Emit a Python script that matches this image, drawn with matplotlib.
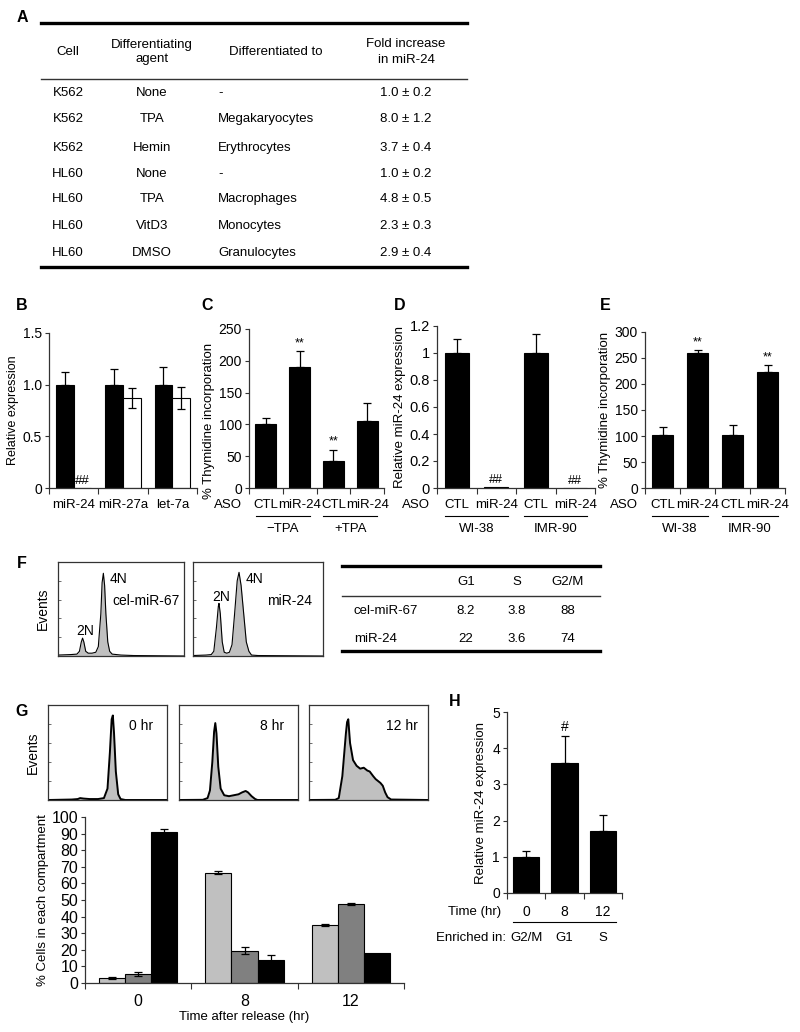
import numpy as np
import matplotlib
matplotlib.use("Agg")
import matplotlib.pyplot as plt
import matplotlib.transforms as mtransforms

plt.rcParams['font.family'] = ['Liberation Sans', 'DejaVu Sans']
plt.rcParams['font.size'] = 9.5

W, H = 800, 1032
NARROW = ['Liberation Sans Narrow', 'Liberation Sans', 'DejaVu Sans']

# ---------------- data ----------------
# A - differentiation table
tabA_cells = ['K562', 'K562', 'K562', 'HL60', 'HL60', 'HL60', 'HL60']
tabA_agents = ['None', 'TPA', 'Hemin', 'None', 'TPA', 'VitD3', 'DMSO']
tabA_to = ['-', 'Megakaryocytes', 'Erythrocytes', '-', 'Macrophages', 'Monocytes', 'Granulocytes']
tabA_fold = ['1.0 ± 0.2', '8.0 ± 1.2', '3.7 ± 0.4', '1.0 ± 0.2', '4.8 ± 0.5', '2.3 ± 0.3', '2.9 ± 0.4']

# B - relative expression
b_genes = ['miR-24', 'miR-27a', 'let-7a']
b_ctl = [1.0, 1.0, 1.0]
b_ctl_err = [0.12, 0.15, 0.17]
b_aso = [0.0, 0.87, 0.87]
b_aso_err = [0.0, 0.10, 0.11]

# C - thymidine, TPA
c_labels = ['CTL', 'miR-24', 'CTL', 'miR-24']
c_groups = ['\u2212TPA', '+TPA']
c_vals = [100, 191, 43, 105]
c_err = [10, 24, 17, 28]
c_marks = ['', '**', '**', '']

# D - miR-24 expression in fibroblasts
d_labels = ['CTL', 'miR-24', 'CTL', 'miR-24']
d_groups = ['WI-38', 'IMR-90']
d_vals = [1.0, 0.005, 1.0, 0.0]
d_err = [0.10, 0.0, 0.14, 0.0]
d_marks = ['', '##', '', '##']

# E - thymidine in fibroblasts
e_labels = ['CTL', 'miR-24', 'CTL', 'miR-24']
e_groups = ['WI-38', 'IMR-90']
e_vals = [101, 260, 101, 223]
e_err = [17, 5, 21, 14]
e_marks = ['', '**', '', '**']

# F - DNA content histograms (x, y as fraction of box)
f1_x = [0.0, 0.10, 0.15, 0.17, 0.185, 0.195, 0.205, 0.22, 0.24, 0.27, 0.30, 0.32, 0.34, 0.35, 0.36, 0.37, 0.38, 0.395, 0.41, 0.43, 0.50, 0.60, 1.0]
f1_y = [0.01, 0.015, 0.02, 0.05, 0.15, 0.19, 0.15, 0.05, 0.03, 0.03, 0.04, 0.10, 0.45, 0.78, 0.88, 0.75, 0.45, 0.15, 0.05, 0.02, 0.01, 0.005, 0.0]
f2_x = [0.0, 0.10, 0.14, 0.16, 0.18, 0.195, 0.20, 0.21, 0.225, 0.24, 0.26, 0.28, 0.30, 0.32, 0.34, 0.354, 0.37, 0.39, 0.41, 0.43, 0.45, 0.50, 1.0]
f2_y = [0.005, 0.01, 0.015, 0.05, 0.30, 0.53, 0.56, 0.45, 0.15, 0.04, 0.03, 0.04, 0.12, 0.45, 0.80, 0.89, 0.75, 0.45, 0.15, 0.05, 0.01, 0.005, 0.0]
f_names = ['cel-miR-67', 'miR-24']
tabF_rows = ['cel-miR-67', 'miR-24']
tabF_cols = ['G1', 'S', 'G2/M']
tabF_vals = [['8.2', '3.8', '88'], ['22', '3.6', '74']]

# G - release histograms
g0_x = [0.0, 0.20, 0.25, 0.27, 0.30, 0.35, 0.42, 0.47, 0.50, 0.52, 0.535, 0.545, 0.555, 0.57, 0.59, 0.61, 0.65, 1.0]
g0_y = [0.0, 0.005, 0.01, 0.02, 0.015, 0.01, 0.01, 0.02, 0.12, 0.50, 0.85, 0.89, 0.70, 0.30, 0.06, 0.01, 0.0, 0.0]
g8_x = [0.0, 0.20, 0.24, 0.26, 0.28, 0.295, 0.305, 0.315, 0.33, 0.35, 0.38, 0.42, 0.46, 0.50, 0.53, 0.56, 0.58, 0.61, 0.64, 0.66, 1.0]
g8_y = [0.0, 0.002, 0.02, 0.10, 0.40, 0.72, 0.81, 0.70, 0.35, 0.12, 0.05, 0.04, 0.05, 0.06, 0.08, 0.095, 0.08, 0.04, 0.01, 0.0, 0.0]
g12_x = [0.0, 0.22, 0.25, 0.28, 0.31, 0.32, 0.33, 0.345, 0.37, 0.40, 0.43, 0.46, 0.49, 0.51, 0.54, 0.56, 0.58, 0.60, 0.62, 0.64, 0.66, 0.69, 1.0]
g12_y = [0.0, 0.002, 0.02, 0.25, 0.70, 0.82, 0.85, 0.60, 0.42, 0.36, 0.33, 0.34, 0.31, 0.30, 0.25, 0.22, 0.20, 0.18, 0.15, 0.08, 0.03, 0.005, 0.0]
g_hist_names = ['0 hr', '8 hr', '12 hr']

# G - compartments
g_times = ['0', '8', '12']
g_g1 = [3, 66.5, 35]
g_g1_err = [0.5, 1.0, 0.5]
g_s = [5.5, 19.5, 47.5]
g_s_err = [1.0, 2.0, 0.5]
g_g2m = [91, 14, 18]
g_g2m_err = [2.0, 3.0, 0.0]

# H - miR-24 across cycle
h_times = ['0', '8', '12']
h_phase = ['G2/M', 'G1', 'S']
h_vals = [1.0, 3.6, 1.7]
h_err = [0.15, 0.75, 0.45]

# ---------------- figure ----------------
fig = plt.figure(figsize=(8, 10.32), dpi=100)


def px_axes(x0, y0, x1, y1):
    return fig.add_axes([x0 / W, 1 - y1 / H, (x1 - x0) / W, (y1 - y0) / H])


def below(ax, dy, dx=0):
    return mtransforms.offset_copy(ax.get_xaxis_transform(), fig=fig, x=dx, y=-dy, units='dots')


def style(ax, n):
    for s in ['top', 'right']:
        ax.spines[s].set_visible(False)
    for s in ['left', 'bottom']:
        ax.spines[s].set_color('#333333')
        ax.spines[s].set_linewidth(0.9)
    ax.set_xlim(-0.5, n - 0.5)
    ax.set_xticks(np.arange(-0.5, n, 1.0))
    ax.tick_params(axis='x', direction='out', length=4, width=0.8, color='#333333', labelbottom=False)
    ax.tick_params(axis='y', direction='out', length=3, width=0.8, color='#333333', pad=2)


ebar = dict(ecolor='black', elinewidth=0.9, capsize=3, capthick=0.9, linestyle='none')

# B
axB = px_axes(49, 333, 197, 488)
xb = np.arange(len(b_genes))
axB.bar(xb - 0.18, b_ctl, 0.36, color='black', edgecolor='black', lw=0.8)
axB.errorbar(xb - 0.18, b_ctl, yerr=[np.zeros(3), b_ctl_err], **ebar)
axB.bar(xb + 0.18, b_aso, 0.36, color='white', edgecolor='black', lw=0.8)
keep = [i for i in range(3) if b_aso_err[i] > 0]
axB.errorbar(xb[keep] + 0.18, np.array(b_aso)[keep], yerr=np.array(b_aso_err)[keep], **ebar)
axB.text(xb[0] + 0.18, 0.01, '##', ha='center', va='bottom', fontsize=9.5)
style(axB, 3)
axB.set_ylim(0, 1.5)
axB.set_yticks([0, 0.5, 1.0, 1.5])
axB.set_yticklabels(['0', '0.5', '1.0', '1.5'], fontsize=10)
axB.set_ylabel('Relative expression', labelpad=3, fontsize=9)
for i, g in enumerate(b_genes):
    axB.text(i, 0, g, transform=below(axB, 17), ha='center', va='center')


def aso_panel(box, labels, groups, vals, errs, marks, ylim, yticks, yticklabels, ylabel, markpad, narrow=False):
    ax = px_axes(*box)
    x = np.arange(len(vals))
    ax.bar(x, vals, 0.62, color='black', edgecolor='black', lw=0.8)
    keep = [i for i in range(len(vals)) if errs[i] > 0]
    ax.errorbar(x[keep], np.array(vals)[keep], yerr=[np.zeros(len(keep)), np.array(errs)[keep]], **ebar)
    for i, m in enumerate(marks):
        if m:
            ax.text(i, vals[i] + errs[i] + markpad, m, ha='center', va='bottom', fontsize=9)
    style(ax, len(vals))
    ax.set_ylim(*ylim)
    ax.set_yticks(yticks)
    if narrow:
        ax.set_yticklabels(yticklabels, family=NARROW, fontsize=10.5)
    else:
        ax.set_yticklabels(yticklabels, fontsize=10)
    ax.set_ylabel(ylabel, labelpad=3)
    for i, lab in enumerate(labels):
        ax.text(i, 0, lab, transform=below(ax, 17), ha='center', va='center')
    ax.text(-0.5, 0, 'ASO', transform=below(ax, 17, dx=-7), ha='right', va='center')
    for k, g in enumerate(groups):
        ax.plot([2 * k - 0.3, 2 * k + 1.3], [0, 0], transform=below(ax, 28), color='black', lw=0.8, clip_on=False)
        ax.text(2 * k + 0.5, 0, g, transform=below(ax, 41), ha='center', va='center')
    return ax


axC = aso_panel((249, 329, 384, 488), c_labels, c_groups, c_vals, c_err, c_marks, (0, 250),
                np.arange(0, 251, 50), [str(v) for v in range(0, 251, 50)], '% Thymidine incorporation', 3)
axC.yaxis.set_label_coords(-0.255, 0.42)
axD = aso_panel((437, 326, 595, 488), d_labels, d_groups, d_vals, d_err, d_marks, (0, 1.2),
                np.arange(0, 1.21, 0.2), ['0', '0.2', '0.4', '0.6', '0.8', '1', '1.2'],
                'Relative miR-24 expression', 0.008, narrow=True)
axE = aso_panel((645, 332, 785, 488), e_labels, e_groups, e_vals, e_err, e_marks, (0, 300),
                np.arange(0, 301, 50), [str(v) for v in range(0, 301, 50)], '% Thymidine incorporation', 3)


def hist_box(box, xs, ys, lw):
    ax = px_axes(*box)
    ax.fill_between(xs, ys, color='#c0c0c0', lw=0)
    ax.plot(xs, ys, color='black', lw=lw)
    ax.set_xlim(0, 1)
    ax.set_ylim(0, 1)
    for s in ax.spines.values():
        s.set_color('#333333')
        s.set_linewidth(0.9)
    ax.set_xticks([])
    ax.set_yticks(np.arange(0.2, 1.0, 0.2))
    ax.tick_params(axis='y', direction='in', length=2.5, width=0.6, color='#555555', labelleft=False)
    return ax


# F
axF1 = hist_box((58, 562, 184, 656), f1_x, f1_y, 0.8)
axF1.text(0.215, 0.27, '2N', ha='center', va='center', fontsize=10)
axF1.text(0.48, 0.82, '4N', ha='center', va='center', fontsize=10)
axF1.text(0.70, 0.58, f_names[0], ha='center', va='center', fontsize=10)
axF1.set_ylabel('Events', labelpad=6, fontsize=10)
axF2 = hist_box((193, 562, 323, 656), f2_x, f2_y, 0.8)
axF2.text(0.22, 0.63, '2N', ha='center', va='center', fontsize=10)
axF2.text(0.47, 0.82, '4N', ha='center', va='center', fontsize=10)
axF2.text(0.74, 0.59, f_names[1], ha='center', va='center', fontsize=10)

# G histograms
g_hists = [((48, 705, 167, 800), g0_x, g0_y), ((179, 705, 298, 800), g8_x, g8_y), ((309, 705, 428, 800), g12_x, g12_y)]
for k, (box, xs, ys) in enumerate(g_hists):
    axg = hist_box(box, xs, ys, 1.4)
    axg.text(0.78, 0.78, g_hist_names[k], ha='center', va='center', fontsize=10)
    if k == 0:
        axg.set_ylabel('Events', labelpad=6, fontsize=10)

# G compartments
axG = px_axes(85, 817, 404, 983)
xg = np.arange(len(g_times))
wg = 0.245
for off, v, e, c in [(-wg, g_g1, g_g1_err, '#c0c0c0'), (0, g_s, g_s_err, '#808080'), (wg, g_g2m, g_g2m_err, 'black')]:
    axG.bar(xg + off, v, wg, color=c, edgecolor='black', lw=0.8)
    keep = [i for i in range(3) if e[i] > 0]
    axG.errorbar(xg[keep] + off, np.array(v)[keep], yerr=np.array(e)[keep], **ebar)
style(axG, 3)
axG.set_ylim(0, 100)
axG.set_yticks(np.arange(0, 101, 10))
axG.set_yticklabels([str(v) for v in range(0, 101, 10)], family=NARROW, fontsize=11.5)
axG.set_ylabel('% Cells in each compartment', labelpad=2)
for i, t in enumerate(g_times):
    axG.text(i, 0, t, transform=below(axG, 18), ha='center', va='center', family=NARROW, fontsize=11.5)
axG.text(1, 0, 'Time after release (hr)', transform=below(axG, 34), ha='center', va='center')

# H
axH = px_axes(507, 712, 622, 893)
xh = np.arange(len(h_vals))
axH.bar(xh, h_vals, 0.68, color='black', edgecolor='black', lw=0.8)
axH.errorbar(xh, h_vals, yerr=[np.zeros(3), h_err], **ebar)
axH.text(1, h_vals[1] + h_err[1] + 0.05, '#', ha='center', va='bottom', fontsize=10)
style(axH, 3)
axH.set_ylim(0, 5)
axH.set_yticks(range(6))
axH.set_yticklabels([str(v) for v in range(6)], fontsize=10)
axH.set_ylabel('Relative miR-24 expression', labelpad=4)
for i, t in enumerate(h_times):
    axH.text(i, 0, t, transform=below(axH, 19), ha='center', va='center', fontsize=10)
axH.text(-0.5, 0, 'Time (hr)', transform=below(axH, 19, dx=-6), ha='right', va='center', fontsize=9.5)
axH.plot([-0.35, 2.35], [0, 0], transform=below(axH, 29), color='black', lw=0.8, clip_on=False)
for i, p in enumerate(h_phase):
    axH.text(i, 0, p, transform=below(axH, 45), ha='center', va='center', fontsize=9.5)
axH.text(-0.5, 0, 'Enriched in:', transform=below(axH, 45, dx=-1), ha='right', va='center', fontsize=9.5)

# ---------------- overlay: tables and panel letters ----------------
ov = fig.add_axes([0, 0, 1, 1])
ov.set_xlim(0, W)
ov.set_ylim(H, 0)
ov.axis('off')

# table A
ov.plot([41, 467], [23, 23], color='black', lw=2.4)
ov.plot([41, 467], [79, 79], color='#333333', lw=1.0)
ov.plot([41, 467], [267, 267], color='black', lw=2.4)
ov.text(68, 52, 'Cell', ha='center', va='center')
ov.text(152, 52, 'Differentiating\nagent', ha='center', va='center', linespacing=1.3)
ov.text(276, 52, 'Differentiated to', ha='center', va='center')
ov.text(406, 52, 'Fold increase\nin miR-24', ha='center', va='center', linespacing=1.45)
rowsA = [93, 119, 148, 174, 199, 226, 253]
for r, y in enumerate(rowsA):
    ov.text(68, y, tabA_cells[r], ha='center', va='center')
    ov.text(152, y, tabA_agents[r], ha='center', va='center')
    ov.text(218, y, tabA_to[r], ha='left', va='center')
    ov.text(406, y, tabA_fold[r], ha='center', va='center')

# table F
ov.plot([342, 600], [566, 566], color='black', lw=2.4)
ov.plot([342, 600], [596, 596], color='#333333', lw=1.0)
ov.plot([342, 600], [651, 651], color='black', lw=2.4)
colx = [466, 517, 568]
for j, c in enumerate(tabF_cols):
    ov.text(colx[j], 582, c, ha='center', va='center')
for r, y in enumerate([611, 639]):
    ov.text(354, y, tabF_rows[r], ha='left', va='center')
    for j in range(3):
        ov.text(colx[j], y, tabF_vals[r][j], ha='center', va='center')

for lab, x, y in [('A', 22, 17), ('B', 22, 305), ('C', 207, 305), ('D', 400, 305), ('E', 605, 305),
                  ('F', 22, 563), ('G', 22, 712), ('H', 455, 702)]:
    ov.text(x, y, lab, ha='center', va='center', fontsize=11.5, fontweight='bold')

fig.savefig('out.png', dpi=100)
